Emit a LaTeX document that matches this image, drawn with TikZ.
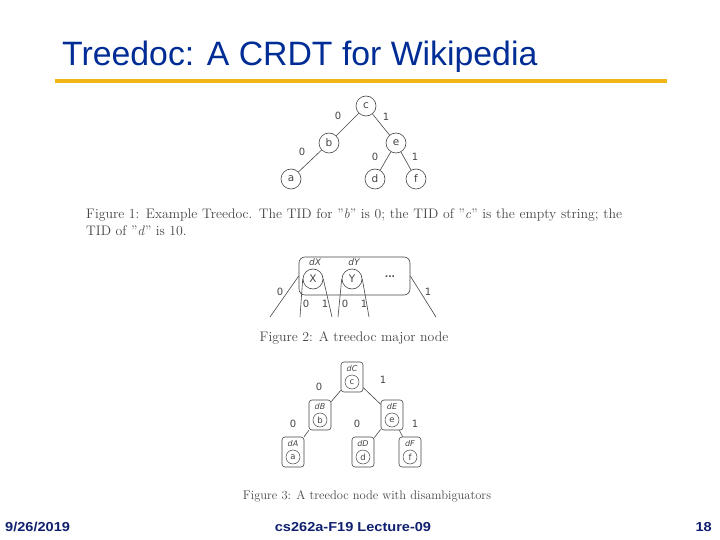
\documentclass[tikz,border=0pt]{standalone}
\usepackage{fontspec}
\setsansfont{Liberation Sans}
\newfontfamily\lblfont{DejaVu Sans}
\usepackage{tikz}
\usetikzlibrary{positioning}
\definecolor{titleblue}{RGB}{0,44,150}
\definecolor{footblue}{RGB}{16,32,110}
\definecolor{rulegold}{RGB}{240,182,24}
\definecolor{figgray}{RGB}{70,70,70}

\begin{document}
\begin{tikzpicture}[x=1pt, y=-1pt,
tnode/.style={circle, draw=figgray, line width=0.6pt, minimum size=20pt, inner sep=0pt, font=\lblfont\fontsize{10.5}{12}\selectfont, text=figgray},
snode/.style={circle, draw=figgray, line width=0.5pt, minimum size=14pt, inner sep=0pt, font=\lblfont\fontsize{8.5}{10}\selectfont, text=figgray},
dbox/.style={rectangle, rounded corners=3pt, draw=figgray, line width=0.6pt, minimum width=22pt, minimum height=30pt, inner sep=0pt},
dlab/.style={font=\lblfont\itshape\fontsize{8}{9}\selectfont, text=figgray, inner sep=0pt},
elab/.style={font=\lblfont\fontsize{10}{11}\selectfont, text=figgray, inner sep=0pt},
edge/.style={draw=figgray, line width=0.6pt},
caption/.style={font=\fontsize{13.8}{17}\selectfont, text=figgray, inner sep=0pt},
foot/.style={font=\sffamily\bfseries\fontsize{13}{15}\selectfont, text=footblue, inner sep=0pt, xscale=1.12}
]
\fill[white] (0,0) rectangle (720,540);

\node[anchor=base west, inner sep=0pt, font=\sffamily\fontsize{33.8}{38}\selectfont, text=titleblue] (title) at (62,66) {Treedoc: A CRDT for Wikipedia};
\fill[rulegold] (55,79) rectangle (667,83);

\node[tnode] (c) at (366,106) {c};
\node[tnode] (b) at (329,143) {b};
\node[tnode] (e) at (396,143) {e};
\node[tnode] (a) at (291,179) {a};
\node[tnode] (d) at (375,179) {d};
\node[tnode] (f) at (416,179) {f};
\draw[edge] (c) -- (b);
\draw[edge] (c) -- (e);
\draw[edge] (b) -- (a);
\draw[edge] (e) -- (d);
\draw[edge] (e) -- (f);
\node[elab] at (338,116) {0};
\node[elab] at (386,117) {1};
\node[elab] at (302,152) {0};
\node[elab] at (375,157) {0};
\node[elab] at (415,157) {1};

\node[caption, anchor=north west, text width=536pt, align=justify] (cap1) at (86,209)
{Figure 1: Example Treedoc. The TID for "\textit{b}" is 0; the TID of "\textit{c}" is the empty string; the\linebreak TID of "\textit{d}" is 10.};

\node[rectangle, rounded corners=6pt, draw=figgray, line width=0.6pt, minimum width=111pt, minimum height=38pt, inner sep=0pt] (major) at (354.5,276) {};
\node[tnode] (X) at (313,279) {X};
\node[tnode] (Y) at (352,279) {Y};
\node[dlab, font=\lblfont\itshape\fontsize{9}{10}\selectfont] at (315,262) {dX};
\node[dlab, font=\lblfont\itshape\fontsize{9}{10}\selectfont] at (354,262) {dY};
\node[elab, font=\lblfont\bfseries\fontsize{9}{10}\selectfont] (dots) at (390,277) {...};
\coordinate (m0) at (270,317);
\coordinate (m1) at (436,317);
\coordinate (x0) at (300,317);
\coordinate (x1) at (332,317);
\coordinate (y0) at (338,317);
\coordinate (y1) at (369,317);
\draw[edge] (major.west) -- (m0);
\draw[edge] (major.east) -- (m1);
\draw[edge] (X.west) -- (x0);
\draw[edge] (X.east) -- (x1);
\draw[edge] (Y.west) -- (y0);
\draw[edge] (Y.east) -- (y1);
\node[elab] at (280,292) {0};
\node[elab] at (428,292) {1};
\node[elab] at (306,304) {0};
\node[elab] at (325,304) {1};
\node[elab] at (345,304) {0};
\node[elab] at (364,304) {1};

\node[caption] (cap2) at (354,338) {Figure 2: A treedoc major node};

\node[dbox] (C) at (352,377) {};
\node[dbox] (B) at (320,415) {};
\node[dbox] (E) at (392,415) {};
\node[dbox] (A) at (293,452) {};
\node[dbox] (D) at (363,452) {};
\node[dbox] (F) at (410,452) {};
\foreach \n/\t in {C/c,B/b,E/e,A/a,D/d,F/f} {
  \node[snode] (\t3) at ([yshift=-5pt]\n.center) {\t};
  \node[dlab] at ([yshift=8.5pt]\n.center) {d\n};
}
\draw[edge] (C) -- (B);
\draw[edge] (C) -- (E);
\draw[edge] (B) -- (A);
\draw[edge] (E) -- (D);
\draw[edge] (E) -- (F);
\node[elab] at (319,387) {0};
\node[elab] at (383,380) {1};
\node[elab] at (293,424) {0};
\node[elab] at (357,424) {0};
\node[elab] at (415,424) {1};

\node[caption, font=\fontsize{12.5}{15}\selectfont] (cap3) at (367,496) {Figure 3: A treedoc node with disambiguators};

\node[foot, anchor=west] (date) at (5,527) {9/26/2019};
\node[foot] (course) at (353,527) {cs262a-F19 Lecture-09};
\node[foot, anchor=east] (page) at (712,527) {18};
\end{tikzpicture}
\end{document}
